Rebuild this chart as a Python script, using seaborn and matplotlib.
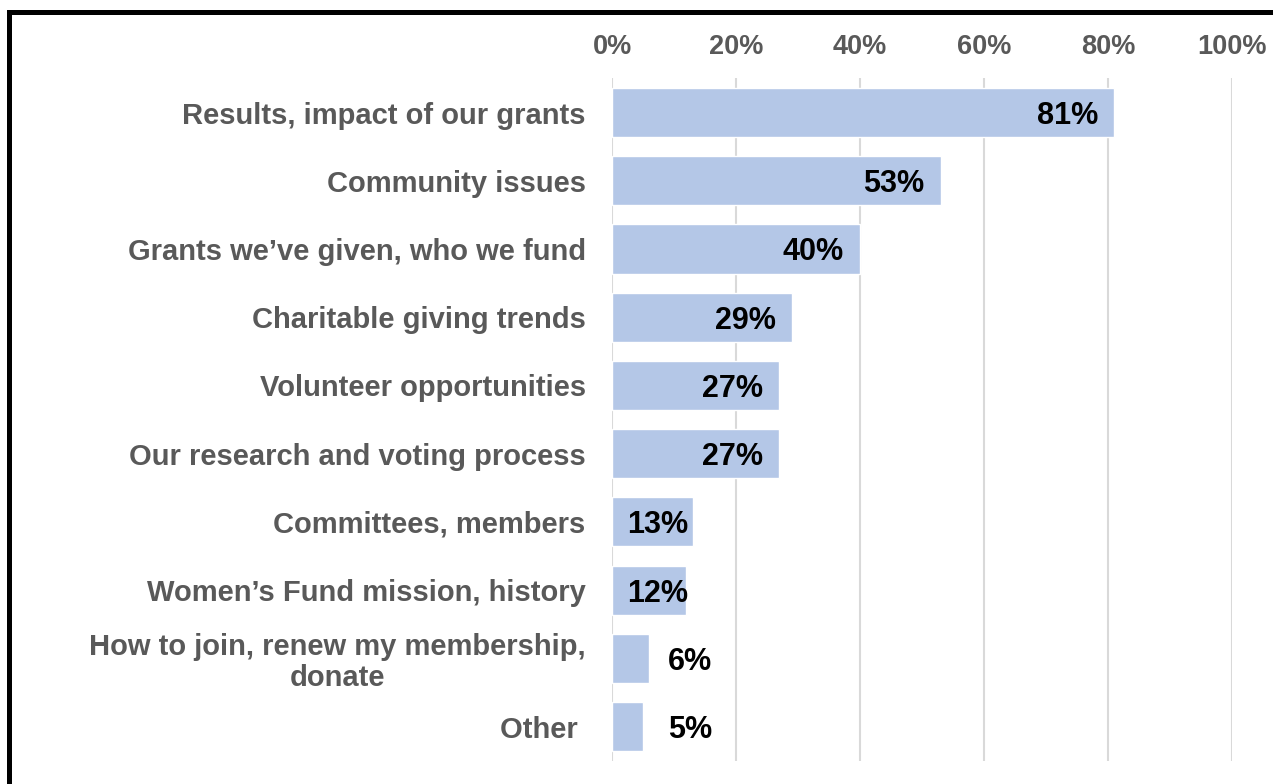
import matplotlib
matplotlib.use("Agg")
import matplotlib.pyplot as plt
import matplotlib.patches as mpatches
from matplotlib.ticker import PercentFormatter
import seaborn as sns
import pandas as pd

# Survey topics and share of respondents interested in each
topics = [
    "Results, impact of our grants",
    "Community issues",
    "Grants we\u2019ve given, who we fund",
    "Charitable giving trends",
    "Volunteer opportunities",
    "Our research and voting process",
    "Committees, members",
    "Women\u2019s Fund mission, history",
    "How to join, renew my membership,\ndonate",
    "Other ",
]
shares = [81, 53, 40, 29, 27, 27, 13, 12, 6, 5]
x_ticks = [0, 20, 40, 60, 80, 100]

df = pd.DataFrame({"topic": topics, "share": shares})

sns.set_theme(style="white")
plt.rcParams["font.family"] = ["Liberation Sans", "DejaVu Sans"]

fig = plt.figure(figsize=(12.73, 7.84), dpi=100)
ax = fig.add_axes([0.4808, 0.0298, 0.4870, 0.8702])

sns.barplot(data=df, x="share", y="topic", orient="h", color="#B4C7E7",
            saturation=1, width=0.72, ax=ax)

ax.set_xlim(0, 100)
ax.set_xticks(x_ticks)
ax.xaxis.set_major_formatter(PercentFormatter(decimals=0))
ax.xaxis.tick_top()
ax.tick_params(axis="x", length=0, pad=13, labelsize=19.5, labelcolor="#595959")
ax.tick_params(axis="y", length=0, pad=19, labelsize=21, labelcolor="#595959")
for lab in ax.get_xticklabels() + ax.get_yticklabels():
    lab.set_fontweight("bold")
for lab in ax.get_yticklabels():
    lab.set_multialignment("center")
    lab.set_linespacing(1.1)

ax.set_xlabel("")
ax.set_ylabel("")
ax.grid(axis="x", color="#D9D9D9", linewidth=1.5)
ax.grid(axis="y", visible=False)
ax.set_axisbelow(True)
for s in ax.spines.values():
    s.set_visible(False)

# Value labels: inside the bar end for long bars, from the bar base for short ones
for i, v in enumerate(shares):
    kw = dict(va="center_baseline", fontsize=22, fontweight="bold",
              color="black", textcoords="offset points")
    if v >= 20:
        ax.annotate(f"{v}%", (v, i), xytext=(-11.5, 0), ha="right", **kw)
    elif v >= 10:
        ax.annotate(f"{v}%", (0, i), xytext=(11, 0), ha="left", **kw)
    else:
        ax.annotate(f"{v}%", (0, i), xytext=(40.5, 0), ha="left", **kw)

# Heavy frame around the chart area
fig.add_artist(mpatches.Rectangle((8.5 / 1273, -0.1), 1.2, 1.1 - 12.5 / 784,
                                  transform=fig.transFigure, fill=False,
                                  edgecolor="black", linewidth=3.6,
                                  clip_on=False))

fig.savefig("out.png", dpi=100)
